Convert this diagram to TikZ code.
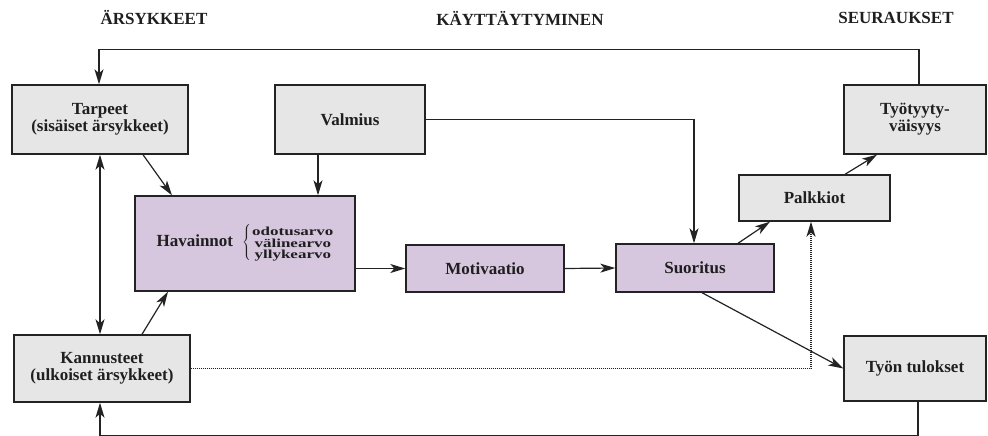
\documentclass[tikz,border=0pt]{standalone}
\usepackage{fontspec}
\setmainfont{Liberation Serif}
\usepackage{graphicx}
\usetikzlibrary{arrows.meta}
\definecolor{boxgray}{RGB}{230,230,230}
\definecolor{boxlilac}{RGB}{214,198,222}
\definecolor{inkline}{RGB}{35,35,35}
\tikzset{
  x=1pt, y=-1pt,
  every node/.style={font=\fontsize{17}{17}\selectfont\bfseries, text=black!88},
  plainbox/.style={draw=inkline, line width=1.4pt, fill=boxgray, align=center, inner sep=0pt},
  lilacbox/.style={draw=inkline, line width=1.4pt, fill=boxlilac, align=center, inner sep=0pt},
  header/.style={font=\fontsize{17}{17}\selectfont\bfseries},
  tip/.tip={Stealth[length=15pt,width=9pt,inset=4pt]},
  arr/.style={draw=inkline, line width=1.2pt, -tip},
  dblarr/.style={draw=inkline, line width=1.2pt, tip-tip},
  dotarr/.style={draw=inkline, line width=1.4pt, dash pattern=on 1.2pt off 0.8pt, -tip},
}
\begin{document}
\begin{tikzpicture}
\useasboundingbox[fill=white] (0,0) rectangle (988,436);

% column headings
\node[header] (h1) at (154,18) {ÄRSYKKEET};
\node[header] (h2) at (520,18) {KÄYTTÄYTYMINEN};
\node[header] (h3) at (896,18) {SEURAUKSET};

% boxes
\node[plainbox, minimum width=176pt, minimum height=69pt] (tarpeet) at (100,119.5)
  {\fontsize{17}{16}\selectfont Tarpeet\\(sisäiset ärsykkeet)};
\node[plainbox, minimum width=150pt, minimum height=69pt] (valmius) at (350,119.5) {Valmius};
\node[plainbox, minimum width=142pt, minimum height=69pt] (tyyt) at (915,119.5)
  {\fontsize{17}{18}\selectfont Työtyyty-\\väisyys};
\node[plainbox, minimum width=151pt, minimum height=46pt] (palk) at (814.5,198) {Palkkiot};
\node[lilacbox, minimum width=220pt, minimum height=95pt] (hav) at (245,243.5)
  {Havainnot\hspace{9pt}$\left\{\vphantom{\rule[-14pt]{0pt}{32pt}}\right.$\hspace{0pt}%
   \raisebox{-1pt}{\scalebox{1}[0.72]{\begin{tabular}{@{}c@{}}odotusarvo\\[-1pt]välinearvo\\[-1pt]yllykearvo\end{tabular}}}};
\node[lilacbox, minimum width=158pt, minimum height=47pt] (motiv) at (485,268.5) {Motivaatio};
\node[lilacbox, minimum width=158pt, minimum height=48pt] (suor) at (695,268) {Suoritus};
\node[plainbox, minimum width=176pt, minimum height=67pt] (kann) at (102,368.5)
  {\fontsize{17}{14.5}\selectfont Kannusteet\\(ulkoiset ärsykkeet)};
\node[plainbox, minimum width=142pt, minimum height=65pt] (tyon) at (915,368.5) {Työn tulokset};

% feedback loops
\draw[arr] ([xshift=4pt]tyyt.north) -- ++(0,-35) -| ([xshift=-1pt]tarpeet.north);
\draw[arr] ([xshift=3pt]tyon.south) -- ++(0,34) -| ([xshift=-2pt]kann.south);

% stimuli
\draw[dblarr] (tarpeet.south) -- (tarpeet.south |- kann.north);
\draw[arr] ([xshift=43pt]tarpeet.south) -- ([xshift=-73pt]hav.north);
\draw[arr] ([xshift=40pt]kann.north) -- ([xshift=-77pt]hav.south);
\draw[dotarr] (kann.east) -| ([xshift=-3.5pt]palk.south);

% behaviour chain
\draw[arr] ([xshift=-32pt]valmius.south) -- ([xshift=-32pt]valmius.south |- hav.north);
\draw[arr] (valmius.east) -| ([xshift=-1pt]suor.north);
\draw[arr] (hav.east |- motiv.west) -- (motiv.west);
\draw[arr] (motiv.east) -- (suor.west);

% consequences
\draw[arr] ([xshift=43pt]suor.north) -- ([xshift=-44.5pt]palk.south);
\draw[arr] ([xshift=30.5pt]palk.north) -- ([xshift=-38pt]tyyt.south);
\draw[arr] ([xshift=7pt]suor.south) -- (tyon.west);
\end{tikzpicture}
\end{document}
